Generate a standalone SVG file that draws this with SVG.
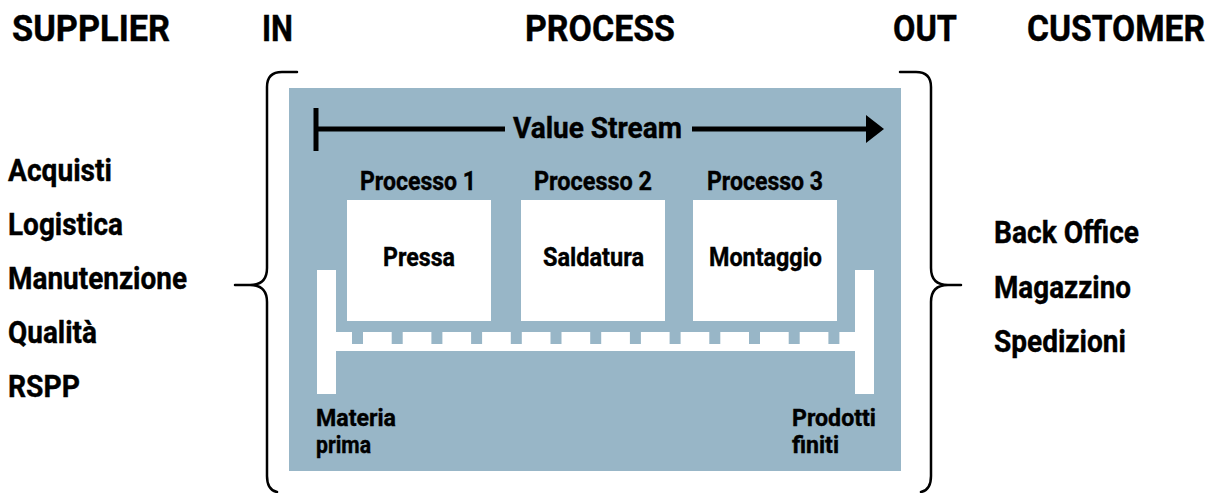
<svg xmlns="http://www.w3.org/2000/svg" width="1218" height="493" viewBox="0 0 1218 493">
  <style>
    text { font-family: "Roboto", "Liberation Sans", sans-serif; font-weight: bold; fill: #000; stroke: #000; stroke-width: 0.4; }
    .hdr { font-size: 36px; }
    .lst { font-size: 31px; }
    .lbl { font-size: 26px; }
    .end { font-size: 24px; }
    .vs { font-size: 29px; }
    .brace { fill: none; stroke: #000; stroke-width: 2.5; stroke-linecap: round; }
    .area { fill: #98b6c7; }
    .box { fill: #fff; }
    .notch { fill: #98b6c7; }
  </style>

  <!-- column headings -->
  <g id="headers">
    <text class="hdr" x="12" y="41" textLength="158" lengthAdjust="spacingAndGlyphs">SUPPLIER</text>
    <text class="hdr" x="262" y="41" textLength="31" lengthAdjust="spacingAndGlyphs">IN</text>
    <text class="hdr" x="525" y="41" textLength="150" lengthAdjust="spacingAndGlyphs">PROCESS</text>
    <text class="hdr" x="893" y="41" textLength="64" lengthAdjust="spacingAndGlyphs">OUT</text>
    <text class="hdr" x="1027" y="41" textLength="178" lengthAdjust="spacingAndGlyphs">CUSTOMER</text>
  </g>

  <!-- supplier functions -->
  <g id="suppliers">
    <text class="lst" x="8" y="181" textLength="104" lengthAdjust="spacingAndGlyphs">Acquisti</text>
    <text class="lst" x="8" y="235" textLength="115" lengthAdjust="spacingAndGlyphs">Logistica</text>
    <text class="lst" x="8" y="289" textLength="179" lengthAdjust="spacingAndGlyphs">Manutenzione</text>
    <text class="lst" x="8" y="343" textLength="89" lengthAdjust="spacingAndGlyphs">Qualità</text>
    <text class="lst" x="8" y="397" textLength="72" lengthAdjust="spacingAndGlyphs">RSPP</text>
  </g>

  <!-- customer functions -->
  <g id="customers">
    <text class="lst" x="994" y="243" textLength="145" lengthAdjust="spacingAndGlyphs">Back Office</text>
    <text class="lst" x="994" y="298" textLength="137" lengthAdjust="spacingAndGlyphs">Magazzino</text>
    <text class="lst" x="994" y="352" textLength="132" lengthAdjust="spacingAndGlyphs">Spedizioni</text>
  </g>

  <!-- braces -->
  <g id="brace-in">
    <path class="brace" d="M297,72 H282 Q267,72 267,87 V268 Q267,285 250,285 H235 M250,285 Q267,285 267,302 V476 Q267,490 277,492"/>
  </g>
  <g id="brace-out">
    <path class="brace" d="M900,72 H916 Q931,72 931,87 V268 Q931,285 948,285 H961 M948,285 Q931,285 931,302 V476 Q931,490 921,492"/>
  </g>

  <!-- process area -->
  <g id="process-area">
    <rect class="area" x="289" y="88" width="612" height="383"/>
  </g>

  <!-- value stream arrow -->
  <g id="connectors">
    <line x1="316" y1="108" x2="316" y2="151" stroke="#000" stroke-width="5"/>
    <line x1="316" y1="129" x2="505" y2="129" stroke="#000" stroke-width="5"/>
    <line x1="692" y1="129" x2="868" y2="129" stroke="#000" stroke-width="5"/>
    <path d="M866,115 L884,129 L866,143 Z" fill="#000"/>
  </g>
  <g id="value-stream">
    <text class="vs" x="513" y="138" textLength="169" lengthAdjust="spacingAndGlyphs">Value Stream</text>
  </g>

  <!-- process steps -->
  <g id="processo-1">
    <text class="lbl" x="360" y="190" textLength="116" lengthAdjust="spacingAndGlyphs">Processo 1</text>
    <rect class="box" x="347" y="200" width="144" height="121"/>
    <text class="lbl" x="383" y="266" textLength="72" lengthAdjust="spacingAndGlyphs">Pressa</text>
  </g>
  <g id="processo-2">
    <text class="lbl" x="534" y="190" textLength="118" lengthAdjust="spacingAndGlyphs">Processo 2</text>
    <rect class="box" x="521" y="200" width="144" height="121"/>
    <text class="lbl" x="543" y="266" textLength="101" lengthAdjust="spacingAndGlyphs">Saldatura</text>
  </g>
  <g id="processo-3">
    <text class="lbl" x="707" y="190" textLength="116" lengthAdjust="spacingAndGlyphs">Processo 3</text>
    <rect class="box" x="693" y="200" width="144" height="121"/>
    <text class="lbl" x="709" y="266" textLength="113" lengthAdjust="spacingAndGlyphs">Montaggio</text>
  </g>

  <!-- conveyor between raw material and finished goods -->
  <g id="conveyor">
    <rect class="box" x="317" y="270" width="19" height="124"/>
    <rect class="box" x="855" y="270" width="19" height="124"/>
    <rect class="box" x="336" y="332" width="519" height="19"/>
    <rect class="notch" x="352" y="332" width="11" height="12"/>
    <rect class="notch" x="391.7" y="332" width="11" height="12"/>
    <rect class="notch" x="431.4" y="332" width="11" height="12"/>
    <rect class="notch" x="471.1" y="332" width="11" height="12"/>
    <rect class="notch" x="510.8" y="332" width="11" height="12"/>
    <rect class="notch" x="550.5" y="332" width="11" height="12"/>
    <rect class="notch" x="590.2" y="332" width="11" height="12"/>
    <rect class="notch" x="629.9" y="332" width="11" height="12"/>
    <rect class="notch" x="669.6" y="332" width="11" height="12"/>
    <rect class="notch" x="709.3" y="332" width="11" height="12"/>
    <rect class="notch" x="749" y="332" width="11" height="12"/>
    <rect class="notch" x="788.7" y="332" width="11" height="12"/>
    <rect class="notch" x="828.4" y="332" width="11" height="12"/>
  </g>

  <g id="materia-prima">
    <text class="end" x="316" y="426" textLength="80" lengthAdjust="spacingAndGlyphs">Materia</text>
    <text class="end" x="316" y="453" textLength="55" lengthAdjust="spacingAndGlyphs">prima</text>
  </g>
  <g id="prodotti-finiti">
    <text class="end" x="792" y="426" textLength="84" lengthAdjust="spacingAndGlyphs">Prodotti</text>
    <text class="end" x="792" y="453" textLength="47" lengthAdjust="spacingAndGlyphs">finiti</text>
  </g>
</svg>
